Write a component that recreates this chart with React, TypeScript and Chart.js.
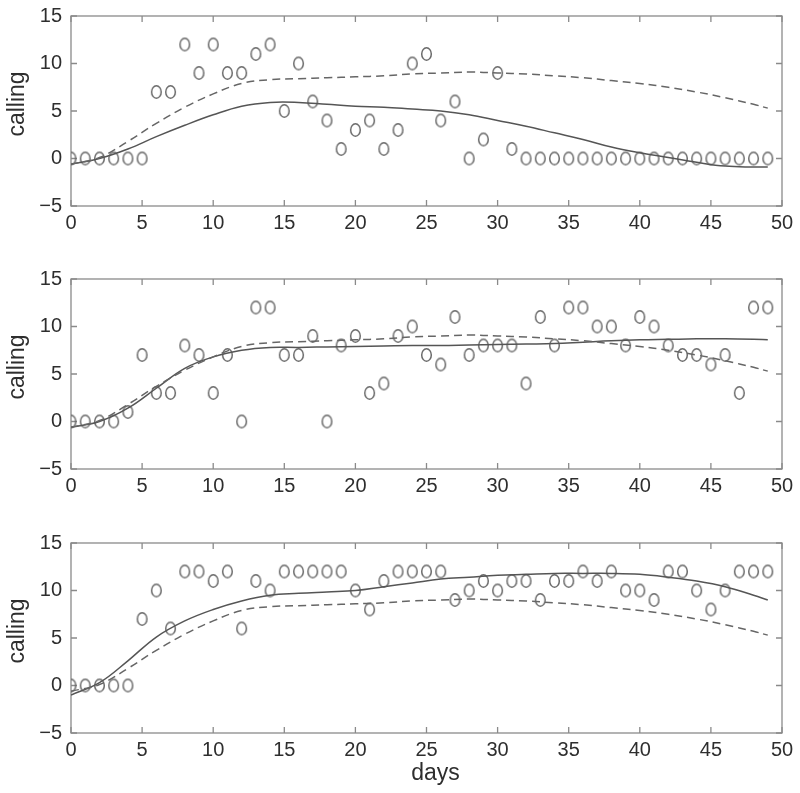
import React, { useEffect, useRef } from "react";
import { Chart, registerables } from "chart.js";

Chart.register(...registerables);

// ---------- data ----------
const days = [
  0, 1, 2, 3, 4, 5, 6, 7, 8, 9, 10, 11, 12, 13, 14, 15, 16, 17, 18, 19, 20, 21, 22, 23, 24,
  25, 26, 27, 28, 29, 30, 31, 32, 33, 34, 35, 36, 37, 38, 39, 40, 41, 42, 43, 44, 45, 46, 47, 48, 49,
];

const calling1 = [
  0, 0, 0, 0, 0, 0, 7, 7, 12, 9, 12, 9, 9, 11, 12, 5, 10, 6, 4, 1, 3, 4, 1, 3, 10,
  11, 4, 6, 0, 2, 9, 1, 0, 0, 0, 0, 0, 0, 0, 0, 0, 0, 0, 0, 0, 0, 0, 0, 0, 0,
];
const calling2 = [
  0, 0, 0, 0, 1, 7, 3, 3, 8, 7, 3, 7, 0, 12, 12, 7, 7, 9, 0, 8, 9, 3, 4, 9, 10,
  7, 6, 11, 7, 8, 8, 8, 4, 11, 8, 12, 12, 10, 10, 8, 11, 10, 8, 7, 7, 6, 7, 3, 12, 12,
];
const calling3 = [
  0, 0, 0, 0, 0, 7, 10, 6, 12, 12, 11, 12, 6, 11, 10, 12, 12, 12, 12, 12, 10, 8, 11, 12, 12,
  12, 12, 9, 10, 11, 10, 11, 11, 9, 11, 11, 12, 11, 12, 10, 10, 9, 12, 12, 10, 8, 10, 12, 12, 12,
];

const curveDays = [0, 2, 4, 6, 8, 10, 12, 14, 16, 18, 20, 22, 24, 26, 28, 30, 32, 34, 36, 38, 40, 42, 44, 46, 48, 49];

const dashedFit = [
  -0.6, 0.1, 1.8, 3.7, 5.4, 6.8, 7.9, 8.3, 8.4, 8.5, 8.6, 8.7, 8.9, 9.0, 9.1, 9.0, 8.9, 8.7, 8.5, 8.2,
  7.9, 7.5, 7.0, 6.4, 5.7, 5.3,
];
const solidFit1 = [
  -0.6, 0.0, 1.0, 2.3, 3.5, 4.6, 5.5, 5.9, 5.9, 5.7, 5.5, 5.4, 5.2, 5.0, 4.6, 4.0, 3.4, 2.7, 2.0, 1.2,
  0.6, 0.1, -0.4, -0.8, -0.9, -0.9,
];
const solidFit2 = [
  -0.6, 0.0, 1.4, 3.5, 5.6, 6.8, 7.5, 7.8, 7.8, 7.85, 7.9, 7.95, 8.0, 8.0, 8.05, 8.1, 8.15, 8.2, 8.35,
  8.5, 8.6, 8.65, 8.7, 8.7, 8.65, 8.6,
];
const solidFit3 = [
  -1.0, 0.3, 2.6, 5.1, 6.8, 8.0, 8.9, 9.5, 9.7, 9.85, 10.0, 10.4, 10.8, 11.2, 11.4, 11.6, 11.7, 11.8,
  11.8, 11.8, 11.7, 11.4, 11.0, 10.4, 9.5, 9.0,
];

const xTicks = [0, 5, 10, 15, 20, 25, 30, 35, 40, 45, 50];
const yTicks = [-5, 0, 5, 10, 15];

const yTitle = "calling";
const xTitle = "days";

// ---------- styling ----------
const FONT = "'Liberation Sans', Arial, Helvetica, sans-serif";
const AXIS_COLOR = "#8a8a8a";
const TEXT_COLOR = "#2e2e2e";

function makeMarker(): HTMLCanvasElement {
  const c = document.createElement("canvas");
  c.width = 13;
  c.height = 16;
  const g = c.getContext("2d")!;
  g.strokeStyle = "#6a6a6a";
  g.lineWidth = 1.5;
  g.beginPath();
  g.ellipse(6.5, 8, 4.8, 6.2, 0, 0, Math.PI * 2);
  g.stroke();
  return c;
}

const framePlugin = {
  id: "frame",
  beforeDatasetsDraw(chart: any) {
    const { ctx, chartArea: a, scales } = chart;
    ctx.save();
    ctx.strokeStyle = AXIS_COLOR;
    ctx.lineWidth = 1.3;
    ctx.strokeRect(a.left, a.top, a.right - a.left, a.bottom - a.top);
    const tl = 6;
    ctx.beginPath();
    for (const v of xTicks) {
      const px = scales.x.getPixelForValue(v);
      ctx.moveTo(px, a.bottom);
      ctx.lineTo(px, a.bottom - tl);
      ctx.moveTo(px, a.top);
      ctx.lineTo(px, a.top + tl);
    }
    for (const v of yTicks) {
      const py = scales.y.getPixelForValue(v);
      ctx.moveTo(a.left, py);
      ctx.lineTo(a.left + tl, py);
      ctx.moveTo(a.right, py);
      ctx.lineTo(a.right - tl, py);
    }
    ctx.stroke();
    ctx.restore();
  },
  afterDraw(chart: any, _args: any, opts: any) {
    const { ctx, chartArea: a } = chart;
    ctx.save();
    ctx.fillStyle = TEXT_COLOR;
    ctx.font = `23px ${FONT}`;
    ctx.textAlign = "center";
    ctx.textBaseline = "middle";
    ctx.translate(18, (a.top + a.bottom) / 2 - 7);
    ctx.rotate(-Math.PI / 2);
    ctx.fillText(yTitle, 0, 0);
    ctx.restore();
    if (opts && opts.showX) {
      ctx.save();
      ctx.fillStyle = TEXT_COLOR;
      ctx.font = `23px ${FONT}`;
      ctx.textAlign = "center";
      ctx.textBaseline = "middle";
      ctx.fillText(xTitle, (a.left + a.right) / 2 + 9, a.bottom + 41);
      ctx.restore();
    }
  },
};

type PanelProps = {
  top: number;
  height: number;
  points: number[];
  solid: number[];
  showX: boolean;
};

function Panel({ top, height, points, solid, showX }: PanelProps) {
  const ref = useRef<HTMLCanvasElement>(null);
  useEffect(() => {
    if (!ref.current) return;
    const marker = makeMarker();
    const plotTop = 16;
    const plotH = 190;
    const chart = new Chart(ref.current, {
      type: "scatter",
      data: {
        datasets: [
          {
            label: "dashed",
            data: curveDays.map((d, i) => ({ x: d, y: dashedFit[i] })),
            showLine: true,
            borderColor: "#666666",
            borderWidth: 1.5,
            borderDash: [8, 5],
            pointRadius: 0,
            tension: 0.4,
            fill: false,
          },
          {
            label: "solid",
            data: curveDays.map((d, i) => ({ x: d, y: solid[i] })),
            showLine: true,
            borderColor: "#555555",
            borderWidth: 1.5,
            pointRadius: 0,
            tension: 0.4,
            fill: false,
          },
          {
            label: "observed",
            data: days.map((d, i) => ({ x: d, y: points[i] })),
            showLine: false,
            pointStyle: marker as any,
            pointRadius: 6,
          },
        ],
      },
      options: {
        animation: false,
        responsive: false,
        devicePixelRatio: 1,
        layout: { autoPadding: false, padding: { top: plotTop, right: 18, left: 0, bottom: 0 } },
        plugins: {
          legend: { display: false },
          tooltip: { enabled: false },
          frame: { showX },
        } as any,
        scales: {
          x: {
            type: "linear",
            min: 0,
            max: 50,
            grid: { display: false, drawTicks: false },
            border: { display: false },
            afterBuildTicks: (s: any) => {
              s.ticks = xTicks.map((v) => ({ value: v }));
            },
            afterFit: (s: any) => {
              s.height = height - plotTop - plotH;
              s.paddingLeft = 0;
              s.paddingRight = 0;
            },
            ticks: {
              padding: 5,
              color: TEXT_COLOR,
              font: { family: FONT, size: 20 },
              maxRotation: 0,
              autoSkip: false,
            },
          },
          y: {
            type: "linear",
            min: -5,
            max: 15,
            grid: { display: false, drawTicks: false },
            border: { display: false },
            afterBuildTicks: (s: any) => {
              s.ticks = yTicks.map((v) => ({ value: v }));
            },
            afterFit: (s: any) => {
              s.width = 71;
              s.paddingTop = 0;
              s.paddingBottom = 0;
            },
            ticks: {
              padding: 9,
              color: TEXT_COLOR,
              font: { family: FONT, size: 20 },
              callback: (v: any) => (Number(v) < 0 ? "\u2212" + Math.abs(Number(v)) : String(v)),
            },
          },
        },
      },
      plugins: [framePlugin as any],
    });
    return () => chart.destroy();
  }, []);
  return (
    <canvas
      ref={ref}
      width={800}
      height={height}
      style={{ position: "absolute", left: 0, top, width: 800, height }}
    />
  );
}

export default function App() {
  return (
    <div style={{ position: "absolute", left: 0, top: 0, width: 800, height: 793, background: "#fff" }}>
      <Panel top={0} height={263} points={calling1} solid={solidFit1} showX={false} />
      <Panel top={263} height={264} points={calling2} solid={solidFit2} showX={false} />
      <Panel top={527} height={266} points={calling3} solid={solidFit3} showX={true} />
    </div>
  );
}
